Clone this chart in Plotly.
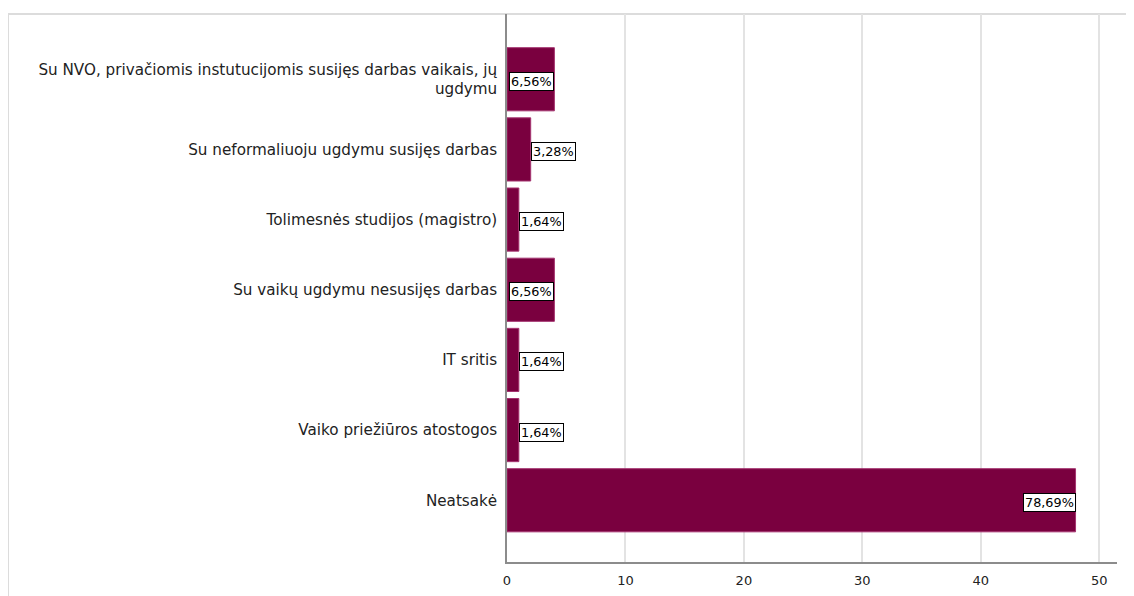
import plotly.graph_objects as go

categories = [
    "Su NVO, privačiomis instutucijomis susijęs darbas vaikais, jų<br>ugdymu",
    "Su neformaliuoju ugdymu susijęs darbas",
    "Tolimesnės studijos (magistro)",
    "Su vaikų ugdymu nesusijęs darbas",
    "IT sritis",
    "Vaiko priežiūros atostogos",
    "Neatsakė",
]
counts = [4, 2, 1, 4, 1, 1, 48]
pct_labels = ["6,56%", "3,28%", "1,64%", "6,56%", "1,64%", "1,64%", "78,69%"]
x_ticks = [0, 10, 20, 30, 40, 50]

bar_color = "#7a003f"
FONT = "DejaVu Sans, Arial, sans-serif"

# page body has an 8px margin; figure is sized to fit inside the window
W, H = 1126, 588
L, T = 499, 6
R, B = 17, 34
pw, ph = W - L - R, H - T - B

fig = go.Figure()
fig.add_trace(go.Bar(
    y=list(range(len(categories))),
    x=counts,
    orientation="h",
    width=0.9,
    marker=dict(color=bar_color, line=dict(color="#a4336f", width=1)),
    hoverinfo="skip",
))

for i, (c, lab) in enumerate(zip(counts, pct_labels)):
    inside = c >= 4
    fig.add_annotation(
        x=c, y=i, xref="x", yref="y",
        text=lab, showarrow=False,
        xanchor="right" if inside else "left",
        yanchor="middle",
        yshift=-2,
        font=dict(family=FONT, size=12.8, color="#000"),
        bgcolor="white", bordercolor="#000", borderwidth=1, borderpad=1,
    )

# outer frame
fig.add_shape(type="rect", xref="paper", yref="paper",
              x0=(0 - L) / pw, x1=(W + 10 - L) / pw,
              y0=-(B + 10) / ph, y1=1.0,
              line=dict(color="#dcdcdc", width=2), fillcolor="rgba(0,0,0,0)",
              layer="below")

fig.update_layout(
    width=W, height=H,
    margin=dict(l=L, r=R, t=T, b=B),
    paper_bgcolor="white", plot_bgcolor="white",
    showlegend=False,
    font=dict(family=FONT, color="#222"),
    xaxis=dict(
        range=[0, 51.5], tickvals=x_ticks, ticktext=[str(t) for t in x_ticks],
        showgrid=True, gridcolor="#e3e3e3", gridwidth=1.5,
        zeroline=False, showline=True, linecolor="#8c8c8c", linewidth=1.5,
        tickfont=dict(size=13, color="#222"), ticks="", ticklabelstandoff=6,
        fixedrange=True,
    ),
    yaxis=dict(
        range=[6.88, -0.93],
        tickvals=list(range(len(categories))), ticktext=categories,
        showgrid=False, zeroline=False, showline=True, linecolor="#8c8c8c", linewidth=1.5,
        tickfont=dict(size=15.2, color="#222"), ticks="", ticklabelstandoff=5,
        fixedrange=True,
    ),
)

fig.write_html("out.html")
